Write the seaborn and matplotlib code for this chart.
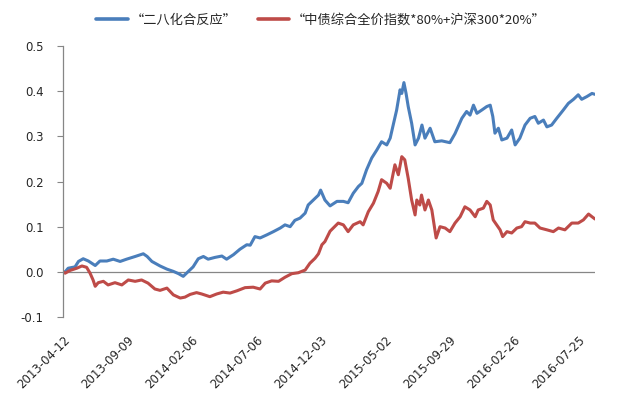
import pandas as pd
import numpy as np
import matplotlib
matplotlib.use('Agg')
import matplotlib.pyplot as plt
import seaborn as sns

# ============================================================
# DATA
# ============================================================

blue_label = '“二八化合反应”'
red_label = '“中债综合全价指数*80%+沪深300*20%”'

blue_dates = [
    '2013-04-12', '2013-04-17', '2013-04-24', '2013-05-10', '2013-05-18', '2013-05-29',
    '2013-06-10', '2013-06-26', '2013-07-07', '2013-07-23', '2013-08-07', '2013-08-23',
    '2013-09-07', '2013-09-27', '2013-10-16', '2013-10-25', '2013-11-05', '2013-11-24',
    '2013-12-10', '2013-12-25', '2014-01-06', '2014-01-17', '2014-01-29', '2014-02-09',
    '2014-02-21', '2014-03-05', '2014-03-16', '2014-04-01', '2014-04-17', '2014-04-28',
    '2014-05-14', '2014-05-29', '2014-06-14', '2014-06-22', '2014-07-03', '2014-07-15',
    '2014-07-31', '2014-08-15', '2014-08-31', '2014-09-11', '2014-09-23', '2014-10-04',
    '2014-10-16', '2014-10-28', '2014-11-04', '2014-11-16', '2014-11-28', '2014-12-03',
    '2014-12-13', '2014-12-25', '2015-01-10', '2015-01-25', '2015-02-05', '2015-02-17',
    '2015-03-01', '2015-03-09', '2015-03-20', '2015-04-01', '2015-04-13', '2015-04-24',
    '2015-05-06', '2015-05-14', '2015-05-21', '2015-05-29', '2015-06-06', '2015-06-10',
    '2015-06-15', '2015-06-20', '2015-06-25', '2015-07-03', '2015-07-11', '2015-07-19',
    '2015-07-27', '2015-08-03', '2015-08-15', '2015-08-26', '2015-09-11', '2015-09-30',
    '2015-10-12', '2015-10-28', '2015-11-08', '2015-11-16', '2015-11-24', '2015-12-02',
    '2015-12-13', '2015-12-25', '2016-01-02', '2016-01-08', '2016-01-13', '2016-01-21',
    '2016-01-29', '2016-02-10', '2016-02-21', '2016-02-29', '2016-03-11', '2016-03-23',
    '2016-04-04', '2016-04-15', '2016-04-23', '2016-05-05', '2016-05-13', '2016-05-24',
    '2016-06-05', '2016-06-20', '2016-07-02', '2016-07-14', '2016-07-25', '2016-08-02',
    '2016-08-14', '2016-08-26', '2016-09-02',
]
blue_vals = [
    0.000, 0.000, 0.008, 0.011, 0.023, 0.029,
    0.024, 0.014, 0.024, 0.024, 0.028, 0.023,
    0.028, 0.034, 0.040, 0.034, 0.023, 0.013,
    0.006, 0.001, -0.004, -0.010, 0.001, 0.011,
    0.029, 0.034, 0.028, 0.032, 0.035, 0.028,
    0.038, 0.050, 0.060, 0.059, 0.078, 0.075,
    0.082, 0.089, 0.097, 0.104, 0.100, 0.114,
    0.119, 0.130, 0.148, 0.159, 0.170, 0.181,
    0.159, 0.146, 0.156, 0.156, 0.153, 0.174,
    0.189, 0.196, 0.226, 0.252, 0.270, 0.288,
    0.281, 0.296, 0.325, 0.358, 0.403, 0.395,
    0.419, 0.395, 0.366, 0.329, 0.281, 0.296,
    0.325, 0.296, 0.318, 0.288, 0.290, 0.286,
    0.306, 0.340, 0.355, 0.347, 0.369, 0.351,
    0.358, 0.366, 0.369, 0.344, 0.307, 0.318,
    0.292, 0.296, 0.314, 0.281, 0.296, 0.325,
    0.340, 0.344, 0.329, 0.336, 0.321, 0.325,
    0.340, 0.358, 0.373, 0.382, 0.392, 0.382,
    0.388, 0.395, 0.393,
]

red_dates = [
    '2013-04-12', '2013-04-17', '2013-04-28', '2013-05-14', '2013-05-26', '2013-06-06',
    '2013-06-14', '2013-06-21', '2013-06-26', '2013-07-03', '2013-07-15', '2013-07-26',
    '2013-08-11', '2013-08-27', '2013-09-11', '2013-09-27', '2013-10-12', '2013-10-27',
    '2013-11-12', '2013-11-24', '2013-12-10', '2013-12-25', '2014-01-10', '2014-01-21',
    '2014-02-02', '2014-02-17', '2014-03-01', '2014-03-20', '2014-04-05', '2014-04-20',
    '2014-05-06', '2014-05-22', '2014-06-10', '2014-06-29', '2014-07-15', '2014-07-27',
    '2014-08-11', '2014-08-27', '2014-09-11', '2014-09-27', '2014-10-12', '2014-10-28',
    '2014-11-08', '2014-11-20', '2014-11-28', '2014-12-06', '2014-12-13', '2014-12-25',
    '2015-01-13', '2015-01-25', '2015-02-05', '2015-02-17', '2015-03-05', '2015-03-12',
    '2015-03-24', '2015-04-05', '2015-04-16', '2015-04-24', '2015-05-06', '2015-05-14',
    '2015-05-25', '2015-06-02', '2015-06-10', '2015-06-17', '2015-06-25', '2015-07-03',
    '2015-07-11', '2015-07-15', '2015-07-22', '2015-07-26', '2015-08-03', '2015-08-11',
    '2015-08-19', '2015-08-29', '2015-09-07', '2015-09-19', '2015-09-30', '2015-10-12',
    '2015-10-24', '2015-11-04', '2015-11-16', '2015-11-28', '2015-12-05', '2015-12-17',
    '2015-12-25', '2016-01-02', '2016-01-09', '2016-01-17', '2016-01-25', '2016-01-31',
    '2016-02-10', '2016-02-21', '2016-03-04', '2016-03-15', '2016-03-23', '2016-04-04',
    '2016-04-15', '2016-04-27', '2016-05-13', '2016-05-28', '2016-06-09', '2016-06-24',
    '2016-07-10', '2016-07-25', '2016-08-06', '2016-08-18', '2016-08-26', '2016-09-02',
]
red_vals = [
    0.000, -0.003, 0.003, 0.008, 0.013, 0.010,
    -0.003, -0.018, -0.032, -0.024, -0.021, -0.029,
    -0.024, -0.029, -0.018, -0.021, -0.018, -0.025,
    -0.038, -0.041, -0.036, -0.051, -0.058, -0.056,
    -0.050, -0.046, -0.049, -0.055, -0.049, -0.045,
    -0.047, -0.042, -0.035, -0.034, -0.038, -0.025,
    -0.020, -0.021, -0.012, -0.004, -0.002, 0.004,
    0.019, 0.030, 0.040, 0.060, 0.067, 0.090,
    0.108, 0.104, 0.089, 0.104, 0.111, 0.104,
    0.133, 0.152, 0.178, 0.204, 0.196, 0.185,
    0.237, 0.215, 0.255, 0.248, 0.207, 0.159,
    0.126, 0.159, 0.148, 0.170, 0.137, 0.159,
    0.137, 0.075, 0.100, 0.097, 0.089, 0.108,
    0.122, 0.144, 0.137, 0.122, 0.137, 0.141,
    0.156, 0.148, 0.115, 0.104, 0.093, 0.078,
    0.089, 0.086, 0.097, 0.100, 0.111, 0.108,
    0.108, 0.097, 0.093, 0.089, 0.097, 0.093,
    0.108, 0.108, 0.115, 0.128, 0.122, 0.117,
]

x_ticks = ['2013-04-12', '2013-09-09', '2014-02-06', '2014-07-06', '2014-12-03',
           '2015-05-02', '2015-09-29', '2016-02-26', '2016-07-25']
y_ticks = [-0.1, 0.0, 0.1, 0.2, 0.3, 0.4, 0.5]

# ============================================================
# BUILD LONG TABLE
# ============================================================

df = pd.concat([
    pd.DataFrame({'date': pd.to_datetime(blue_dates), 'value': blue_vals, 'series': blue_label}),
    pd.DataFrame({'date': pd.to_datetime(red_dates), 'value': red_vals, 'series': red_label}),
], ignore_index=True)

# ============================================================
# PLOT
# ============================================================

sns.set_style('white')
plt.rcParams['font.family'] = ['Noto Sans CJK SC', 'DejaVu Sans']
plt.rcParams['axes.unicode_minus'] = False

fig = plt.figure(figsize=(6.19, 3.97), dpi=100)
ax = fig.add_axes([0.1018, 0.2015, 0.8594, 0.6826])

sns.lineplot(
    data=df, x='date', y='value', hue='series',
    palette={blue_label: '#4A7EBB', red_label: '#BE4B48'},
    estimator=None, linewidth=2.2, ax=ax
)

ax.set_xlim(pd.Timestamp('2013-04-12'), pd.Timestamp('2016-09-02'))
ax.set_ylim(-0.1, 0.5)
ax.set_yticks(y_ticks)
ax.set_yticklabels([f'{v:.1f}' for v in y_ticks], fontsize=8.5, family='DejaVu Sans')
ax.set_xticks(pd.to_datetime(x_ticks))
ax.set_xticklabels(x_ticks, rotation=45, ha='right', rotation_mode='anchor',
                   fontsize=8.5, family='DejaVu Sans')
ax.set_xlabel('')
ax.set_ylabel('')

ax.axhline(0, color='#868686', linewidth=0.9, zorder=1)
for side in ['top', 'right', 'bottom']:
    ax.spines[side].set_visible(False)
ax.spines['left'].set_color('#868686')
ax.spines['left'].set_linewidth(0.9)
ax.tick_params(axis='y', left=True, length=4, width=0.8, color='#868686', pad=10)
ax.tick_params(axis='x', bottom=False, length=0, pad=12)

handles, labels = ax.get_legend_handles_labels()
for h in handles:
    h.set_linewidth(2.6)
ax.legend(handles, labels, loc='center', bbox_to_anchor=(0.485, 1.096),
          ncol=2, frameon=False, fontsize=9.5, handlelength=2.4,
          columnspacing=1.6, handletextpad=0.2)

plt.savefig('out.png', dpi=100)
plt.close()
